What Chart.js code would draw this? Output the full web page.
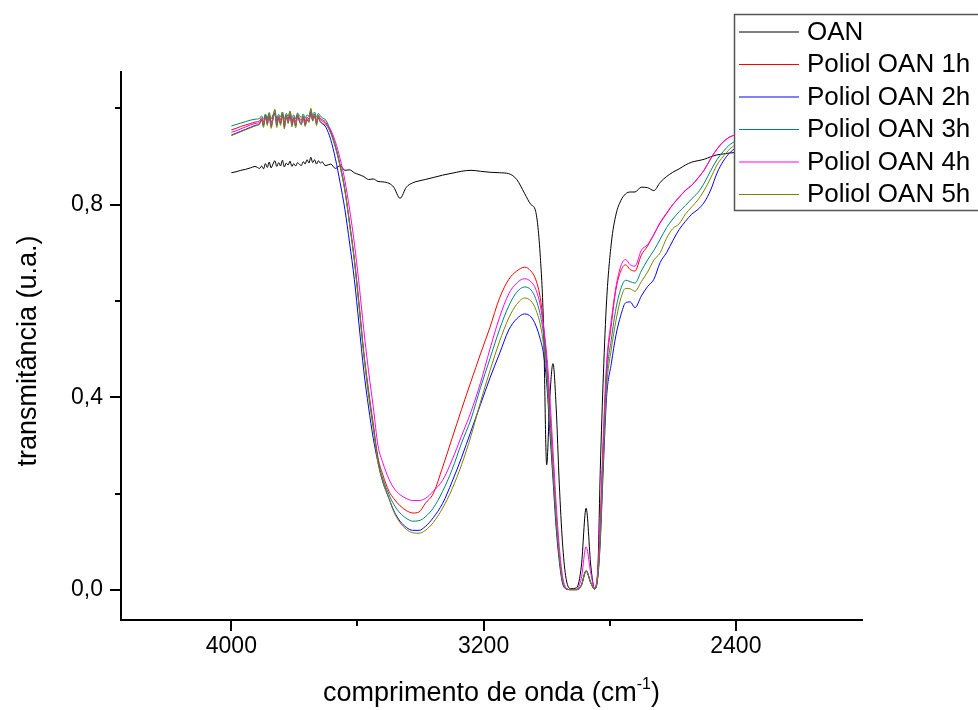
<!DOCTYPE html>
<html>
<head>
<meta charset="utf-8">
<script src="https://cdn.jsdelivr.net/npm/chart.js@4.4.0/dist/chart.umd.min.js"></script>
<style>
  html, body { margin: 0; padding: 0; background: #fff; }
  #wrap { width: 978px; height: 710px; }
</style>
</head>
<body>
<div id="wrap"><canvas id="ftir" width="978" height="710"></canvas></div>
<script>
// wavenumbers (cm-1), shared by all spectra
const wavenumbers = [
  4000, 3985, 3970, 3955, 3940, 3925,
  3910, 3904, 3898, 3892, 3886, 3880, 3874, 3868, 3862, 3856, 3850, 3844, 3838, 3832, 3826, 3820, 3814, 3808,
  3802, 3796, 3790, 3784, 3778, 3772, 3766, 3760, 3754, 3748, 3742, 3736, 3730, 3724, 3718, 3712, 3706, 3700,
  3685, 3670, 3655, 3640, 3625, 3610, 3595, 3580, 3565, 3550, 3535,
  3520, 3500, 3485, 3465, 3445, 3425, 3405,
  3385, 3360, 3330, 3300, 3270, 3240, 3210, 3180, 3150, 3120, 3095, 3070, 3050, 3035, 3020, 3010,
  3000, 2990, 2980, 2970, 2960, 2950, 2940, 2925, 2905, 2890, 2875, 2860, 2848,
  2838, 2830, 2820, 2810, 2795, 2780, 2765, 2750, 2735, 2720, 2700, 2680, 2660, 2640, 2620, 2600, 2580, 2560, 2540, 2520, 2500, 2480, 2460, 2440, 2420, 2400
];

const oan = [
  0.866, 0.868, 0.871, 0.873, 0.876, 0.879,
  0.875, 0.880, 0.874, 0.885, 0.877, 0.888, 0.876, 0.884, 0.891, 0.879, 0.887, 0.880, 0.892, 0.878, 0.886, 0.882, 0.890, 0.879,
  0.885, 0.880, 0.887, 0.883, 0.881, 0.889, 0.884, 0.893, 0.886, 0.898, 0.887, 0.893, 0.884, 0.891, 0.886, 0.889, 0.883, 0.881,
  0.884, 0.875, 0.881, 0.871, 0.872, 0.866, 0.862, 0.858, 0.852, 0.853, 0.848,
  0.847, 0.844, 0.836, 0.813, 0.836, 0.845, 0.849,
  0.852, 0.856, 0.861, 0.865, 0.869, 0.871, 0.869, 0.867, 0.866, 0.864, 0.852, 0.823, 0.800, 0.786, 0.690, 0.550,
  0.260, 0.400, 0.470, 0.380, 0.220, 0.100, 0.030, 0.003, 0.005, 0.050, 0.170, 0.050, 0.003,
  0.040, 0.250, 0.450, 0.600, 0.720, 0.780, 0.808, 0.822, 0.826, 0.826, 0.836, 0.835, 0.829, 0.846, 0.858, 0.867, 0.874, 0.882, 0.888, 0.891, 0.894, 0.899, 0.903, 0.905, 0.907, 0.908
];

const poliol1h = [
  0.955, 0.958, 0.962, 0.965, 0.968, 0.971,
  0.974, 0.980, 0.972, 0.985, 0.975, 0.988, 0.970, 0.982, 0.990, 0.973, 0.984, 0.976, 0.988, 0.970, 0.985, 0.977, 0.989, 0.973,
  0.982, 0.972, 0.986, 0.979, 0.976, 0.984, 0.973, 0.981, 0.978, 0.993, 0.980, 0.987, 0.975, 0.985, 0.979, 0.976, 0.974, 0.970,
  0.950, 0.920, 0.880, 0.830, 0.762, 0.688, 0.595, 0.495, 0.415, 0.345, 0.275,
  0.240, 0.205, 0.190, 0.175, 0.165, 0.160, 0.162,
  0.180, 0.200, 0.255, 0.315, 0.375, 0.433, 0.490, 0.545, 0.605, 0.645, 0.662, 0.670, 0.662, 0.645, 0.605, 0.550,
  0.470, 0.370, 0.260, 0.150, 0.070, 0.020, 0.004, 0.001, 0.001, 0.010, 0.040, 0.015, 0.002,
  0.035, 0.130, 0.310, 0.460, 0.550, 0.625, 0.662, 0.675, 0.665, 0.662, 0.695, 0.714, 0.738, 0.762, 0.781, 0.800, 0.815, 0.829, 0.840, 0.855, 0.872, 0.895, 0.915, 0.930, 0.940, 0.945
];

const poliol2h = [
  0.944, 0.948, 0.952, 0.956, 0.960, 0.964,
  0.968, 0.975, 0.964, 0.982, 0.968, 0.986, 0.962, 0.977, 0.990, 0.964, 0.980, 0.968, 0.987, 0.961, 0.982, 0.970, 0.988, 0.965,
  0.977, 0.963, 0.984, 0.973, 0.968, 0.980, 0.965, 0.976, 0.972, 0.992, 0.974, 0.983, 0.968, 0.980, 0.972, 0.968, 0.965, 0.960,
  0.935, 0.895, 0.845, 0.790, 0.720, 0.645, 0.550, 0.455, 0.380, 0.315, 0.265,
  0.225, 0.190, 0.165, 0.143, 0.130, 0.124, 0.124,
  0.132, 0.150, 0.180, 0.225, 0.275, 0.330, 0.385, 0.440, 0.490, 0.540, 0.563, 0.573, 0.567, 0.550, 0.520, 0.490,
  0.430, 0.330, 0.230, 0.130, 0.060, 0.015, 0.003, 0.001, 0.001, 0.010, 0.040, 0.015, 0.002,
  0.025, 0.100, 0.260, 0.400, 0.470, 0.530, 0.570, 0.596, 0.598, 0.586, 0.610, 0.630, 0.645, 0.680, 0.700, 0.725, 0.748, 0.765, 0.780, 0.790, 0.805, 0.830, 0.865, 0.890, 0.907, 0.918
];

const poliol3h = [
  0.963, 0.966, 0.969, 0.972, 0.975, 0.977,
  0.979, 0.984, 0.977, 0.988, 0.980, 0.991, 0.978, 0.986, 0.995, 0.979, 0.987, 0.982, 0.992, 0.977, 0.989, 0.983, 0.993, 0.980,
  0.986, 0.978, 0.990, 0.984, 0.981, 0.988, 0.979, 0.986, 0.983, 0.997, 0.985, 0.992, 0.981, 0.989, 0.984, 0.980, 0.978, 0.975,
  0.952, 0.922, 0.882, 0.832, 0.760, 0.685, 0.590, 0.490, 0.410, 0.340, 0.270,
  0.232, 0.198, 0.178, 0.160, 0.149, 0.143, 0.144,
  0.152, 0.170, 0.205, 0.250, 0.305, 0.355, 0.420, 0.480, 0.540, 0.590, 0.618, 0.629, 0.623, 0.605, 0.570, 0.530,
  0.460, 0.360, 0.250, 0.150, 0.070, 0.020, 0.004, 0.001, 0.001, 0.010, 0.040, 0.015, 0.002,
  0.030, 0.120, 0.300, 0.440, 0.520, 0.585, 0.625, 0.643, 0.640, 0.637, 0.662, 0.685, 0.705, 0.728, 0.752, 0.770, 0.785, 0.798, 0.812, 0.825, 0.845, 0.870, 0.893, 0.910, 0.924, 0.932
];

const poliol4h = [
  0.950, 0.953, 0.957, 0.961, 0.965, 0.968,
  0.971, 0.977, 0.968, 0.983, 0.972, 0.985, 0.966, 0.979, 0.988, 0.969, 0.981, 0.972, 0.986, 0.966, 0.982, 0.973, 0.987, 0.969,
  0.979, 0.968, 0.984, 0.976, 0.972, 0.981, 0.969, 0.978, 0.975, 0.990, 0.977, 0.984, 0.972, 0.982, 0.976, 0.973, 0.971, 0.968,
  0.955, 0.930, 0.895, 0.850, 0.790, 0.720, 0.635, 0.540, 0.455, 0.380, 0.300,
  0.265, 0.230, 0.212, 0.198, 0.190, 0.186, 0.186,
  0.190, 0.205, 0.228, 0.270, 0.320, 0.370, 0.430, 0.500, 0.565, 0.615, 0.637, 0.646, 0.640, 0.625, 0.590, 0.545,
  0.490, 0.400, 0.290, 0.180, 0.090, 0.030, 0.006, 0.001, 0.002, 0.025, 0.090, 0.035, 0.003,
  0.040, 0.150, 0.330, 0.470, 0.560, 0.630, 0.672, 0.686, 0.675, 0.672, 0.705, 0.717, 0.738, 0.763, 0.782, 0.800, 0.815, 0.830, 0.840, 0.855, 0.872, 0.895, 0.915, 0.930, 0.940, 0.945
];

const poliol5h = [
  0.943, 0.947, 0.951, 0.955, 0.959, 0.963,
  0.967, 0.976, 0.960, 0.984, 0.964, 0.990, 0.958, 0.978, 0.998, 0.960, 0.982, 0.964, 0.992, 0.957, 0.985, 0.968, 0.994, 0.961,
  0.978, 0.959, 0.988, 0.972, 0.965, 0.983, 0.962, 0.976, 0.970, 1.000, 0.973, 0.988, 0.964, 0.984, 0.971, 0.969, 0.967, 0.965,
  0.948, 0.918, 0.878, 0.828, 0.758, 0.683, 0.588, 0.488, 0.405, 0.335, 0.265,
  0.226, 0.190, 0.163, 0.140, 0.126, 0.119, 0.118,
  0.124, 0.140, 0.170, 0.210, 0.260, 0.320, 0.390, 0.455, 0.515, 0.565, 0.593, 0.606, 0.600, 0.583, 0.550, 0.510,
  0.450, 0.350, 0.250, 0.150, 0.070, 0.020, 0.004, 0.001, 0.001, 0.010, 0.040, 0.015, 0.002,
  0.030, 0.110, 0.280, 0.420, 0.500, 0.560, 0.605, 0.626, 0.625, 0.620, 0.640, 0.660, 0.685, 0.700, 0.730, 0.750, 0.760, 0.780, 0.795, 0.810, 0.830, 0.855, 0.882, 0.900, 0.915, 0.925
];

const seriesLabels = ['OAN', 'Poliol OAN 1h', 'Poliol OAN 2h', 'Poliol OAN 3h', 'Poliol OAN 4h', 'Poliol OAN 5h'];
const seriesValues = [oan, poliol1h, poliol2h, poliol3h, poliol4h, poliol5h];
const seriesColors = ['#000000', '#ff0000', '#0000ff', '#008080', '#ff00ff', '#808000'];

const xTickValues = [4000, 3600, 3200, 2800, 2400];
const xTickLabels = ['4000', '', '3200', '', '2400'];
const yTickValues = [0, 0.2, 0.4, 0.6, 0.8, 1.0];
const yTickLabels = ['0,0', '', '0,4', '', '0,8', ''];

const FONT = "'Liberation Sans', Arial, sans-serif";

const datasets = seriesValues.map((vals, i) => ({
  label: seriesLabels[i],
  data: wavenumbers.map((w, j) => ({ x: w, y: vals[j] })),
  borderColor: seriesColors[i],
  borderWidth: 1,
  pointRadius: 0,
  fill: false,
  order: seriesValues.length - i   // later series on top, like Origin
}));

// ticks (major long, minor short), axis titles and the boxed legend
const decor = {
  id: 'decor',
  afterDraw(chart) {
    const ctx = chart.ctx;
    const area = chart.chartArea;
    const xs = chart.scales.x, ys = chart.scales.y;
    ctx.save();
    ctx.strokeStyle = '#000';
    ctx.lineWidth = 2;
    xTickValues.forEach((v, i) => {
      const px = Math.round(xs.getPixelForValue(v));
      const len = xTickLabels[i] ? 11 : 6;
      ctx.beginPath();
      ctx.moveTo(px, area.bottom);
      ctx.lineTo(px, area.bottom + len);
      ctx.stroke();
    });
    yTickValues.forEach((v, i) => {
      const py = Math.round(ys.getPixelForValue(v));
      const len = yTickLabels[i] ? 11 : 6;
      ctx.beginPath();
      ctx.moveTo(area.left, py);
      ctx.lineTo(area.left - len, py);
      ctx.stroke();
    });

    // x title with superscript
    ctx.fillStyle = '#000';
    ctx.textBaseline = 'alphabetic';
    ctx.textAlign = 'left';
    const main = 'comprimento de onda (cm';
    ctx.font = '27px ' + FONT;
    const w1 = ctx.measureText(main).width;
    const w3 = ctx.measureText(')').width;
    ctx.font = '16px ' + FONT;
    const w2 = ctx.measureText('-1').width;
    let x0 = (area.left + area.right) / 2 - (w1 + w2 + w3) / 2;
    ctx.font = '27px ' + FONT;
    ctx.fillText(main, x0, 701);
    ctx.font = '16px ' + FONT;
    ctx.fillText('-1', x0 + w1, 689);
    ctx.font = '27px ' + FONT;
    ctx.fillText(')', x0 + w1 + w2, 701);

    // y title
    ctx.save();
    ctx.translate(36, (area.top + area.bottom) / 2 + 5);
    ctx.rotate(-Math.PI / 2);
    ctx.textAlign = 'center';
    ctx.font = '27px ' + FONT;
    ctx.fillText('transmitância (u.a.)', 0, 0);
    ctx.restore();

    // legend box
    ctx.fillStyle = '#fff';
    ctx.fillRect(734, 14, 250, 196);
    ctx.strokeStyle = '#555';
    ctx.lineWidth = 1.5;
    ctx.strokeRect(734.5, 14.5, 250, 196);
    ctx.font = '26px ' + FONT;
    ctx.textBaseline = 'middle';
    ctx.textAlign = 'left';
    seriesLabels.forEach((lab, i) => {
      const cy = 31.5 + i * 32.5;
      ctx.strokeStyle = seriesColors[i];
      ctx.lineWidth = 1;
      ctx.beginPath();
      ctx.moveTo(739, cy + 0.5);
      ctx.lineTo(799, cy + 0.5);
      ctx.stroke();
      ctx.fillStyle = '#000';
      ctx.fillText(lab, 807, cy + 1);
    });
    ctx.restore();
  }
};

new Chart(document.getElementById('ftir'), {
  type: 'line',
  data: { datasets },
  options: {
    responsive: false,
    animation: false,
    layout: { padding: { top: 72, right: 116, left: 0, bottom: 0 } },
    plugins: { legend: { display: false }, tooltip: { enabled: false } },
    elements: { line: { cubicInterpolationMode: 'monotone' } },
    scales: {
      x: {
        type: 'linear',
        reverse: true,
        min: 2000,
        max: 4350,
        afterBuildTicks: s => { s.ticks = xTickValues.map(v => ({ value: v })); },
        afterFit: s => { s.height = 90; },
        grid: { drawOnChartArea: false, tickLength: 11, tickColor: 'rgba(0,0,0,0)' },
        border: { color: '#000', width: 2 },
        ticks: {
          autoSkip: false, maxRotation: 0, padding: 2, color: '#000',
          font: { family: FONT, size: 23 },
          callback: (v, i) => xTickLabels[i]
        }
      },
      y: {
        type: 'linear',
        min: -0.062,
        max: 1.075,
        afterBuildTicks: s => { s.ticks = yTickValues.map(v => ({ value: v })); },
        afterFit: s => { s.width = 121; },
        grid: { drawOnChartArea: false, tickLength: 11, tickColor: 'rgba(0,0,0,0)' },
        border: { color: '#000', width: 2 },
        ticks: {
          autoSkip: false, padding: 7, color: '#000',
          font: { family: FONT, size: 23 },
          callback: (v, i) => yTickLabels[i]
        }
      }
    }
  },
  plugins: [decor]
});
</script>
</body>
</html>
